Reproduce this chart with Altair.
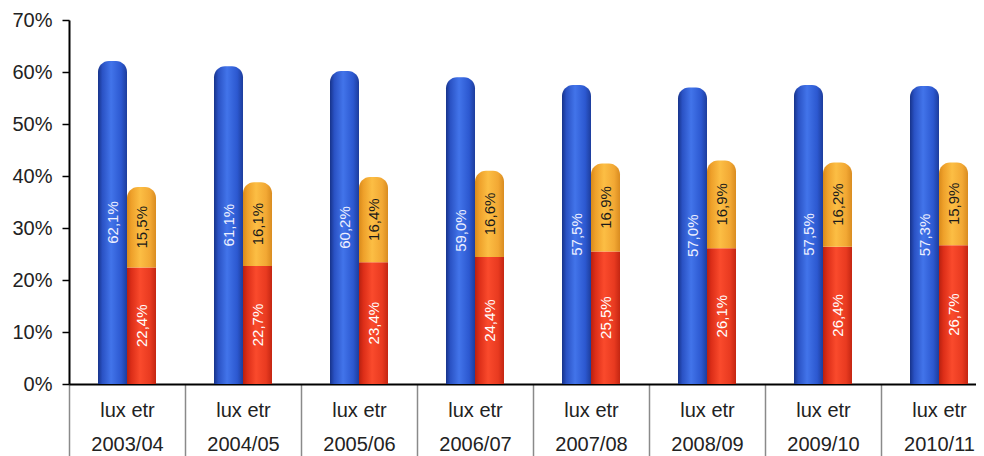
import altair as alt
import pandas as pd

years = ["2003/04", "2004/05", "2005/06", "2006/07", "2007/08", "2008/09", "2009/10", "2010/11"]
lux = [62.1, 61.1, 60.2, 59.0, 57.5, 57.0, 57.5, 57.3]
etr_red = [22.4, 22.7, 23.4, 24.4, 25.5, 26.1, 26.4, 26.7]
etr_orange = [15.5, 16.1, 16.4, 16.6, 16.9, 16.9, 16.2, 15.9]


def fmt(v):
    return f"{v:.1f}".replace(".", ",") + "%"


rows = []
for y, l, r, o in zip(years, lux, etr_red, etr_orange):
    rows.append(dict(year=y, grp="lux", part="lux", lo=0, hi=l, mid=l / 2, label=fmt(l)))
    rows.append(dict(year=y, grp="etr", part="red", lo=0, hi=r, mid=r / 2, label=fmt(r)))
    rows.append(dict(year=y, grp="etr", part="orange", lo=r, hi=r + o, mid=r + o / 2, label=fmt(o)))
df = pd.DataFrame(rows)

FONT = "Liberation Sans"
GROUP = 116
x_scale = alt.Scale(domain=years, range=[0, GROUP * len(years)], paddingInner=0, paddingOuter=0)
xo_scale = alt.Scale(domain=["lux", "etr"], paddingInner=0, paddingOuter=1)
y_scale = alt.Scale(domain=[0, 70], nice=False)

x_enc = alt.X(
    "year:N",
    scale=x_scale,
    sort=years,
    title=None,
    axis=alt.Axis(
        domainColor="#000000",
        domainWidth=2,
        tickBand="extent",
        tickSize=72,
        tickColor="#8a8a8a",
        tickWidth=1.5,
        labelExpr="(datum.label && datum.label != '') ? ['lux etr', datum.label] : ''",
        labelLineHeight=34,
        labelPadding=-56,
        labelFont=FONT,
        labelFontSize=20,
        labelColor="#222222",
        labelAngle=0,
    ),
)
xo_enc = alt.XOffset("grp:N", scale=xo_scale, sort=["lux", "etr"])
y_enc = alt.Y(
    "lo:Q",
    scale=y_scale,
    title=None,
    axis=alt.Axis(
        values=[0, 10, 20, 30, 40, 50, 60, 70],
        labelExpr="datum.value + '%'",
        grid=False,
        domainColor="#000000",
        domainWidth=2,
        tickColor="#000000",
        tickSize=7,
        tickWidth=1.5,
        labelFont=FONT,
        labelFontSize=20,
        labelColor="#222222",
        labelPadding=10,
    ),
)


def grad(stops):
    return alt.Gradient(
        gradient="linear", x1=0, x2=1, y1=0, y2=0,
        stops=[alt.GradientStop(offset=o, color=c) for o, c in stops],
    )


blue = grad([(0, "#17338a"), (0.15, "#2a52c4"), (0.45, "#4274ea"), (0.8, "#2c58d0"), (1, "#1d3d9c")])
red = grad([(0, "#b8200f"), (0.15, "#dc2e18"), (0.45, "#fa4a2c"), (0.8, "#e83a20"), (1, "#c42612")])
orange = grad([(0, "#d98a1a"), (0.15, "#eea02a"), (0.45, "#fcbe44"), (0.8, "#f2a834"), (1, "#d98c20")])

base = alt.Chart(df)

bars_lux = base.transform_filter("datum.part == 'lux'").mark_bar(
    color=blue, cornerRadiusTopLeft=11, cornerRadiusTopRight=11
).encode(x=x_enc, xOffset=xo_enc, y=y_enc, y2="hi:Q")

bars_red = base.transform_filter("datum.part == 'red'").mark_bar(color=red).encode(
    x=x_enc, xOffset=xo_enc, y=y_enc, y2="hi:Q"
)

bars_orange = base.transform_filter("datum.part == 'orange'").mark_bar(
    color=orange, cornerRadiusTopLeft=11, cornerRadiusTopRight=11
).encode(x=x_enc, xOffset=xo_enc, y=y_enc, y2="hi:Q")

labels = base.mark_text(angle=270, font=FONT, fontSize=15, baseline="middle", align="center").encode(
    x=x_enc,
    xOffset=xo_enc,
    y=alt.Y("mid:Q", scale=y_scale),
    text="label:N",
    color=alt.Color(
        "part:N",
        scale=alt.Scale(domain=["lux", "red", "orange"], range=["#eef0ff", "#ffffff", "#1a1a1a"]),
        legend=None,
    ),
)

chart = (
    alt.layer(bars_lux, bars_red, bars_orange, labels)
    .properties(
        width=907,
        height=364,
        autosize=alt.AutoSizeParams(type="none"),
        padding={"left": 61, "top": 12, "right": 0, "bottom": 72},
    )
    .configure_view(stroke=None)
)

chart.save("out.html", embed_options={"renderer": "svg", "actions": False})
